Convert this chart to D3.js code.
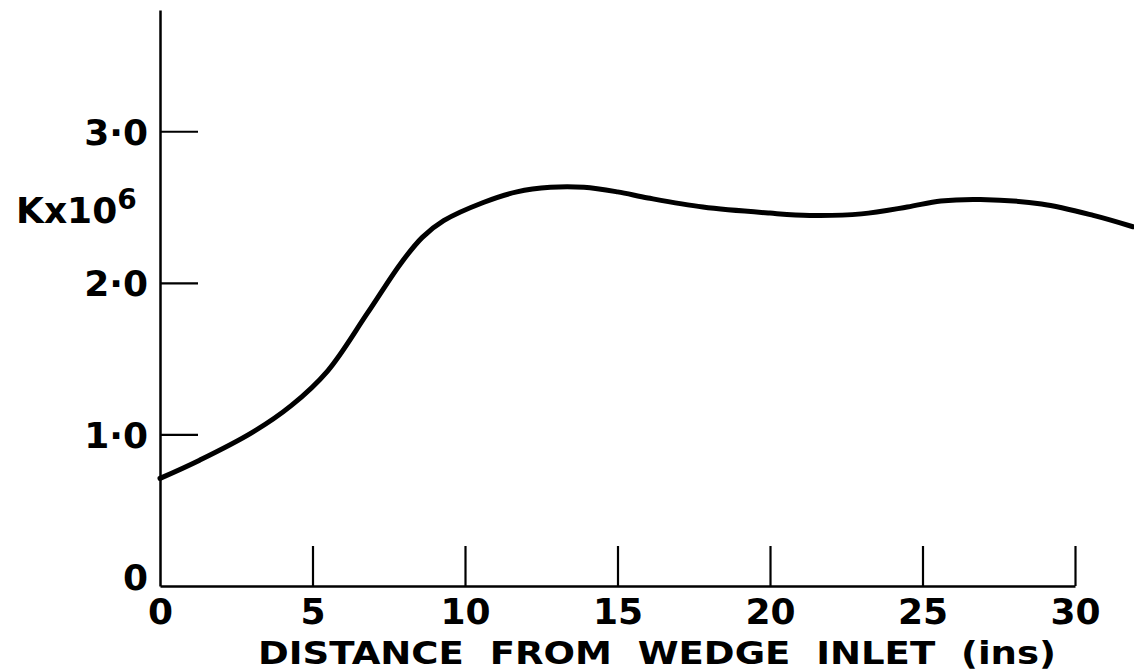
<!DOCTYPE html>
<html><head><meta charset="utf-8">
<script src="https://cdn.jsdelivr.net/npm/d3@7"></script>
<style>
html,body{margin:0;padding:0;background:#fff;}
svg{display:block;}
text{font-family:"DejaVu Sans",sans-serif;font-weight:bold;fill:#000;}
</style></head>
<body>
<svg id="chart" width="1134" height="672"></svg>
<script>
// Data
const distance = [0, 1.3, 3, 4.3, 5.5, 6.8, 7.9, 8.6, 9.3, 10.6, 11.7, 12.8, 13.9, 15, 16, 17.8, 20, 21.3, 23, 24.5, 25.6, 26.9, 28.9, 30.6, 31.9];
const kValues  = [0.71, 0.83, 1.01, 1.19, 1.42, 1.80, 2.13, 2.30, 2.41, 2.53, 2.60, 2.63, 2.63, 2.60, 2.56, 2.50, 2.46, 2.445, 2.455, 2.50, 2.54, 2.55, 2.52, 2.445, 2.37];
const xTicks = [0, 5, 10, 15, 20, 25, 30];
const xTickLabels = ["0", "5", "10", "15", "20", "25", "30"];
const yTicks = [0, 1, 2, 3];
const yTickLabels = ["0", "1·0", "2·0", "3·0"];
const xTitle = "DISTANCE  FROM  WEDGE  INLET  (ins)";

const svg = d3.select("#chart");
const x = d3.scaleLinear().domain([0, 30]).range([160, 1075]);
const y = d3.scaleLinear().domain([0, 3.8]).range([586, 10]);

// Y axis (ticks drawn inward)
const yAxis = d3.axisLeft(y)
  .tickValues(yTicks)
  .tickFormat((d, i) => yTickLabels[i])
  .tickSizeInner(-38).tickSizeOuter(0).tickPadding(12);
const gy = svg.append("g").attr("transform", "translate(160,0)").call(yAxis);
gy.selectAll("text").style("font-size", "36px").attr("dy", "0.36em");
gy.select(".domain").attr("stroke", "#000").attr("stroke-width", 2.5);
gy.selectAll(".tick line").attr("stroke", "#000").attr("stroke-width", 2.2);
gy.selectAll(".tick").filter(d => d === 0).select("line").remove();
gy.selectAll(".tick").filter(d => d === 0).select("text").attr("dy", "0.1em");

// X axis
const xAxis = d3.axisBottom(x)
  .tickValues(xTicks)
  .tickFormat((d, i) => xTickLabels[i])
  .tickSizeInner(-40).tickSizeOuter(0).tickPadding(12);
const gx = svg.append("g").attr("transform", "translate(0,586)").call(xAxis);
gx.selectAll("text").style("font-size", "36px");
gx.select(".domain").attr("stroke", "#000").attr("stroke-width", 2.5);
gx.selectAll(".tick line").attr("stroke", "#000").attr("stroke-width", 2.2);
gx.selectAll(".tick").filter(d => d === 0).select("line").remove();

// Axis titles
svg.append("text")
  .attr("x", 258).attr("y", 664)
  .attr("textLength", 798).attr("lengthAdjust", "spacingAndGlyphs")
  .style("font-size", "32px").style("white-space", "pre")
  .text(xTitle);

const yl = svg.append("text").attr("x", 16).attr("y", 223).style("font-size", "36px");
yl.append("tspan").text("Kx10");
yl.append("tspan").attr("dy", "-14").style("font-size", "28px").text("6");

// Curve
const line = d3.line()
  .x((d, i) => x(distance[i]))
  .y(d => y(d))
  .curve(d3.curveCatmullRom.alpha(0.5));
svg.append("path")
  .datum(kValues)
  .attr("fill", "none")
  .attr("stroke", "#000")
  .attr("stroke-width", 5)
  .attr("stroke-linecap", "round")
  .attr("d", line);
</script>
</body></html>
